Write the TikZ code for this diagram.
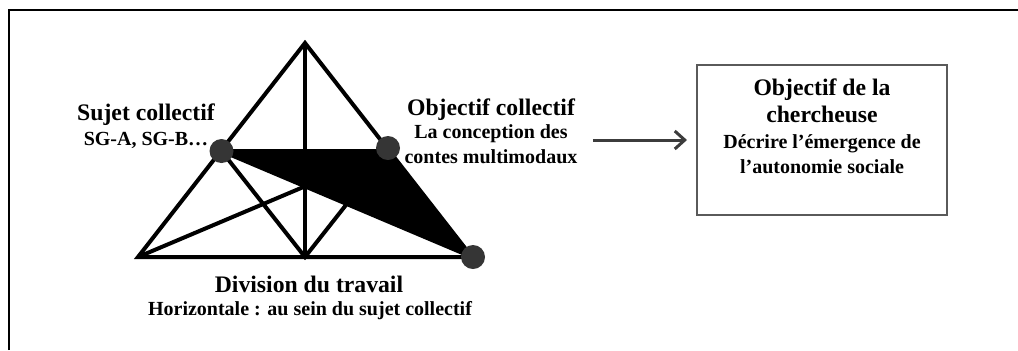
\documentclass[tikz,border=0pt]{standalone}
\usepackage{fontspec}
\setmainfont{Liberation Serif}
\usetikzlibrary{positioning, arrows.meta}
\definecolor{dotgray}{HTML}{353535}
\definecolor{arrowgray}{HTML}{3C3C3C}
\definecolor{boxgray}{HTML}{5A5A5A}
\tikzstyle{bigtxt} = [font=\fontsize{11.85}{13.5}\selectfont\bfseries,
    inner sep=0pt, align=center]
\tikzstyle{smalltxt} = [font=\fontsize{10}{12.5}\selectfont\bfseries,
    inner sep=0pt, align=center]
\tikzstyle{pole} = [circle, fill=dotgray, minimum size=12pt, inner sep=0pt]
\tikzstyle{edge} = [line width=2pt]
\tikzstyle{arrow} = [line width=1.5pt, draw=arrowgray,
    -{Straight Barb[length=5pt, width=9pt]}]
\tikzstyle{goalbox} = [rectangle, draw=boxgray, line width=1pt,
    minimum width=125pt, minimum height=75pt]

\begin{document}
\begin{tikzpicture}[x=0.5pt, y=-0.5pt]
        \useasboundingbox (0,0) rectangle (1018,350);

        % Frame
        \draw [line width=1pt] (9,350) -- (9,10.3) -- (1018,10.3);

        % Triangle
        \coordinate (top) at (305,43);
        \coordinate (bl) at (138,257);
        \coordinate (br) at (472,257);
        \coordinate (lm) at (221.5,151);
        \coordinate (rm) at (388.5,151);
        \coordinate (bm) at (305,257);

        \fill (lm) -- (rm) -- (br) -- cycle;
        \draw [edge] (top) -- (bl) -- (br) -- cycle;
        \draw [edge] (top) -- (bm);
        \draw [edge] (lm) -- (rm);
        \draw [edge] (lm) -- (bm) -- (rm);
        \draw [edge] (bl) -- (rm);
        \draw [edge] (lm) -- (br);

        \node (sujet) [pole] at (lm) {};
        \node (objet) [pole] at (388,148) {};
        \node (travail) [pole] at (473,257) {};

        % Labels
        \node (sujetlbl) [bigtxt, anchor=base] at (146,120) {Sujet collectif};
        \node (sujetsub) [smalltxt, anchor=base] at (146,145) {SG-A, SG-B…};

        \node (objlbl) [bigtxt, anchor=base] at (491,115) {Objectif collectif};
        \node (objsub) [smalltxt, anchor=base] at (491,163) {La conception des\\contes multimodaux};

        \node (divlbl) [bigtxt, anchor=base] at (309,292) {Division du travail};
        \node (divsub) [smalltxt, anchor=base] at (310,315) {Horizontale : au sein du sujet collectif};

        % Box
        \node (goalbox) [goalbox] at (822,140) {};
        \node (goal) [bigtxt, anchor=base] at (822,122) {Objectif de la\\chercheuse};
        \node (goalsub) [smalltxt, anchor=base] at (822,173) {Décrire l’émergence de\\l’autonomie sociale};

        % Arrow
        \draw [arrow, shorten <=7.5pt, shorten >=4.5pt] (objsub.east |- goalbox.west) -- (goalbox.west);

    \end{tikzpicture}
\end{document}
